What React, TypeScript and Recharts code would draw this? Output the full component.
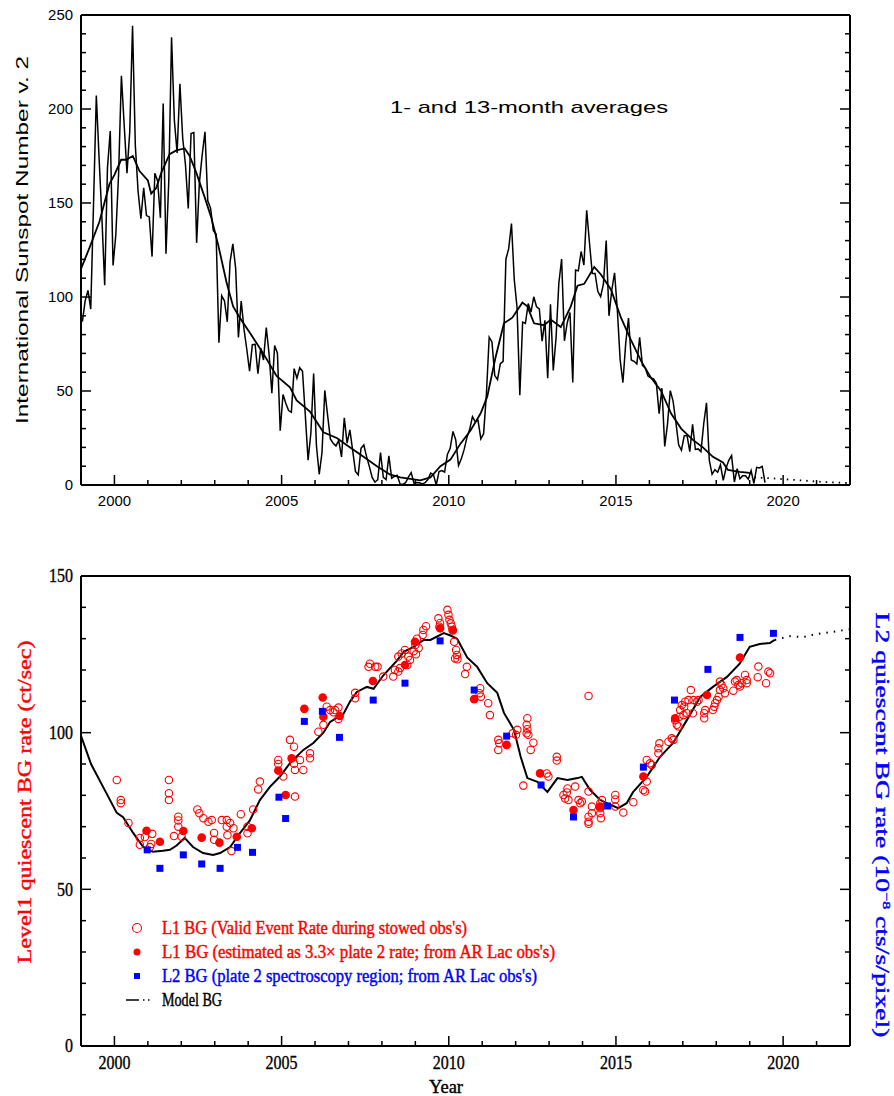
import React from 'react';
import { ComposedChart, Line, Scatter, XAxis, YAxis } from 'recharts';

// monthly mean sunspot number (SILSO v2), Jan..Dec
const sn1999 = [86.9, 98.0, 103.5, 93.6, 149.6, 207.2, 173.5, 142.3, 106.3, 168.7, 188.3, 116.8];
const sn2000 = [133.1, 165.7, 217.7, 191.5, 165.9, 188.0, 244.3, 180.5, 156.0, 141.6, 158.1, 143.3];
const sn2001 = [142.6, 121.5, 165.8, 161.7, 142.1, 202.9, 123.0, 161.5, 238.2, 194.1, 176.6, 213.4];
const sn2002 = [184.6, 170.2, 147.1, 186.9, 187.5, 128.8, 161.0, 175.6, 187.9, 151.2, 147.2, 135.3];
const sn2003 = [133.5, 75.7, 100.7, 97.9, 86.8, 118.7, 128.3, 115.4, 78.5, 97.8, 82.9, 72.2];
const sn2004 = [60.6, 74.6, 74.8, 59.2, 72.8, 66.5, 83.8, 69.7, 48.8, 74.2, 70.1, 28.9];
const sn2005 = [48.1, 43.5, 39.6, 38.7, 61.9, 56.8, 62.4, 60.5, 37.2, 13.2, 27.5, 59.3];
const sn2006 = [20.9, 5.7, 17.3, 50.3, 37.2, 24.5, 22.2, 20.8, 23.7, 14.9, 35.7, 22.3];
const sn2007 = [29.3, 18.4, 7.2, 5.4, 19.5, 21.3, 15.1, 9.8, 4.0, 1.5, 2.8, 17.3];
const sn2008 = [4.1, 2.9, 15.5, 3.6, 4.6, 5.2, 0.6, 0.3, 1.2, 4.2, 6.6, 1.0];
const sn2009 = [1.3, 1.2, 0.6, 1.2, 2.9, 6.3, 5.5, 0.0, 7.1, 7.7, 6.9, 16.3];
const sn2010 = [19.5, 28.5, 24.0, 10.4, 13.9, 18.8, 25.2, 29.6, 36.4, 33.6, 34.4, 24.5];
const sn2011 = [27.3, 48.3, 78.6, 76.1, 58.2, 56.1, 64.5, 65.8, 120.1, 125.7, 139.1, 109.3];
const sn2012 = [94.4, 47.8, 86.6, 85.9, 96.5, 92.0, 100.1, 94.8, 93.7, 76.5, 87.6, 56.8];
const sn2013 = [96.1, 60.9, 78.3, 107.3, 120.2, 76.7, 86.2, 91.8, 54.5, 114.4, 113.9, 124.2];
const sn2014 = [117.0, 146.1, 128.7, 112.5, 112.5, 102.9, 100.2, 106.9, 130.0, 90.0, 103.6, 112.9];
const sn2015 = [93.0, 66.7, 54.5, 75.3, 88.8, 66.5, 65.8, 64.4, 78.6, 63.6, 62.2, 58.0];
const sn2016 = [57.0, 56.4, 54.1, 37.9, 51.5, 20.5, 32.4, 50.2, 44.6, 33.4, 21.4, 18.5];
const sn2017 = [26.1, 26.4, 17.7, 32.3, 18.9, 19.2, 17.8, 32.6, 43.7, 13.2, 5.7, 8.2];
const sn2018 = [6.8, 10.7, 2.5, 8.9, 13.1, 15.6, 1.6, 8.7, 3.3, 4.9, 4.9, 3.1];
const sn2019 = [7.7, 0.8, 9.4, 9.1, 9.9, 1.2];

// 13-month smoothed [year, SN]
const smoothedSN = [
  [1999.0, 115], [1999.25, 126], [1999.55, 140], [1999.85, 160], [2000.0, 165], [2000.2, 173],
  [2000.35, 173], [2000.55, 175], [2000.75, 167], [2001.0, 162], [2001.1, 155], [2001.25, 158],
  [2001.4, 166], [2001.65, 176], [2001.85, 178], [2002.1, 179], [2002.25, 175], [2002.45, 166],
  [2002.7, 153], [2002.9, 142], [2003.1, 128], [2003.35, 108], [2003.55, 95], [2003.75, 89],
  [2004.05, 81], [2004.45, 70], [2004.85, 58], [2005.25, 52], [2005.45, 45], [2005.85, 39],
  [2006.25, 28], [2006.65, 25], [2007.05, 20], [2007.45, 15], [2007.85, 10], [2008.25, 5.5],
  [2008.55, 4], [2009.15, 2.5], [2009.45, 4], [2009.75, 10], [2010.05, 13.5], [2010.35, 22],
  [2010.65, 29], [2010.95, 38], [2011.15, 47], [2011.4, 68], [2011.65, 86], [2011.9, 89],
  [2012.2, 97], [2012.35, 95], [2012.55, 86], [2012.85, 85], [2013.05, 88], [2013.35, 84],
  [2013.65, 95], [2013.85, 106], [2014.05, 107], [2014.35, 116], [2014.55, 112], [2014.85, 104],
  [2015.15, 89], [2015.45, 77], [2015.75, 66], [2016.05, 57], [2016.35, 50], [2016.65, 38],
  [2016.95, 30], [2017.3, 24], [2017.6, 20], [2017.9, 15], [2018.2, 12], [2018.35, 8],
  [2018.7, 7], [2019.0, 6.5],
];
const predictedSN = [[2019.0, 6.5], [2019.15, 4], [2019.7, 3.5], [2020.5, 2.5], [2021.2, 1.6], [2022.0, 1]];

// model background [year, ct/s]
const modelBG = [
  [1999.0, 99], [1999.3, 90], [1999.66, 82.7], [2000.07, 74.4], [2000.26, 73], [2000.56, 68],
  [2000.86, 63.5], [2001.15, 62], [2001.45, 62.3], [2001.66, 62.6], [2001.86, 64], [2002.1, 66.4],
  [2002.35, 63.5], [2002.65, 61.6], [2002.95, 61], [2003.16, 61.6], [2003.46, 63.5], [2003.76, 68],
  [2004.05, 72], [2004.35, 78.5], [2004.65, 82.7], [2004.95, 86], [2005.25, 90.3], [2005.65, 94.5],
  [2005.95, 96.7], [2006.25, 100], [2006.45, 103.4], [2006.85, 106], [2007.05, 110], [2007.25, 113],
  [2007.55, 114.6], [2007.75, 114], [2008.05, 118.4], [2008.45, 123], [2008.65, 125.8], [2008.95, 127.4],
  [2009.25, 129.6], [2009.45, 129.6], [2009.85, 131.8], [2010.05, 131], [2010.25, 130], [2010.55, 124],
  [2010.85, 121], [2011.15, 115.8], [2011.45, 112.7], [2011.65, 106.3], [2011.95, 100.9], [2012.15, 92.3],
  [2012.35, 85.5], [2012.65, 84.3], [2012.95, 81.1], [2013.25, 85.5], [2013.55, 84.9], [2013.85, 85.5],
  [2013.98, 85.9], [2014.23, 81.7], [2014.53, 78.5], [2014.83, 77], [2015.07, 75.9], [2015.32, 77.5],
  [2015.51, 81], [2015.92, 85.9], [2016.32, 92.3], [2016.71, 96.7], [2017.12, 104], [2017.52, 111.4],
  [2017.9, 114.6], [2018.32, 117.8], [2018.7, 122], [2019.0, 127.4], [2019.3, 128.3], [2019.6, 128.6],
  [2019.75, 129.6],
];
const modelBGExtension = [[2019.75, 129.6], [2020.2, 130.8], [2020.6, 130.5], [2021.0, 131.5], [2021.5, 132.2], [2022.0, 133]];

// L1 BG, valid event rate during stowed observations
const l1Stowed = [
  [2000.07, 84.9], [2000.19, 78.5], [2000.19, 77.5], [2000.42, 71.2], [2000.76, 66.4], [2000.76, 64.2],
  [2000.91, 66.7], [2001.06, 63.5], [2001.1, 64.5], [2001.13, 67.7], [2001.63, 84.9], [2001.63, 80.7],
  [2001.63, 78.5], [2001.91, 73.2], [2001.91, 72], [2001.91, 70], [2001.78, 67], [2002.01, 66.8],
  [2002.48, 75.5], [2002.54, 74.3], [2002.66, 72.7], [2002.81, 71.6], [2002.91, 72.1], [2002.98, 68],
  [2002.98, 65.8], [2003.21, 72.1], [2003.36, 70], [2003.36, 72.1], [2003.46, 71.2], [2003.38, 67.3],
  [2003.56, 69.5], [2003.5, 62.2], [2003.78, 74], [2003.98, 70], [2003.98, 67.9], [2004.15, 75.5],
  [2004.3, 81.9], [2004.35, 84.4], [2004.9, 91.3], [2004.9, 90], [2005.05, 86], [2005.25, 97.7],
  [2005.37, 95.5], [2005.4, 88.1], [2005.37, 90.1], [2005.55, 91.3], [2005.65, 88.1], [2005.85, 93.4],
  [2005.85, 91.8], [2005.4, 79.6], [2006.1, 100.3], [2006.25, 102.5], [2006.35, 108.3], [2006.45, 107.2],
  [2006.6, 107.2], [2006.7, 108], [2006.7, 104.4], [2006.55, 106.5], [2007.2, 112.7], [2007.2, 111],
  [2007.64, 122], [2007.6, 121], [2007.8, 121], [2007.87, 121], [2008.04, 117.9], [2008.34, 117.9],
  [2008.39, 120], [2008.49, 119.5], [2008.54, 120.6], [2008.49, 124.3], [2008.59, 125.3], [2008.69, 126.4],
  [2008.79, 124.3], [2008.84, 123.2], [2008.76, 121.6], [2008.95, 126], [2009.0, 128], [2009.05, 130],
  [2009.1, 127], [2009.02, 125], [2009.24, 132.8], [2009.32, 134], [2009.22, 131.2], [2009.69, 136.5],
  [2009.74, 135], [2009.72, 133.8], [2009.96, 139.2], [2009.99, 137.6], [2010.02, 136], [2010.06, 134.9],
  [2010.09, 133.8], [2010.12, 132.8], [2010.16, 129], [2010.22, 126.4], [2010.24, 124.8], [2010.19, 123.7],
  [2010.26, 123.4], [2010.54, 121], [2010.49, 118.7], [2010.94, 114.2], [2010.92, 112.6], [2010.96, 111.5],
  [2011.18, 109.4], [2011.23, 105.6], [2011.48, 97.7], [2011.51, 96.6], [2011.48, 94.5], [2011.91, 99.8],
  [2012.01, 99.3], [2012.05, 100.9], [2012.35, 104.6], [2012.33, 102.5], [2012.35, 101.1], [2012.33, 99.8],
  [2012.38, 99.3], [2012.53, 96.8], [2012.45, 94.5], [2013.23, 92.3], [2013.23, 91.1], [2012.23, 83.1],
  [2012.93, 87], [2012.98, 86], [2013.43, 80.1], [2013.53, 80.9], [2013.55, 82.2], [2013.58, 78.5],
  [2013.78, 82.8], [2013.88, 78.5], [2013.93, 77.5], [2013.48, 79], [2013.98, 78], [2014.18, 111.7],
  [2014.18, 81.2], [2014.18, 73.2], [2014.18, 71.6], [2014.18, 70.9], [2014.28, 76.4], [2014.28, 74.3],
  [2014.53, 77.5], [2014.53, 75.9], [2014.53, 74.3], [2014.55, 72.7], [2014.58, 78.5], [2014.98, 80.1],
  [2014.98, 78.7], [2014.98, 76.4], [2015.22, 74.5], [2015.52, 77.8], [2015.82, 81.7], [2015.87, 81.2],
  [2015.92, 91.3], [2016.02, 90.2], [2016.07, 89.7], [2015.92, 84.4], [2016.27, 95], [2016.3, 96.6],
  [2016.27, 93.4], [2016.57, 97.1], [2016.67, 98.2], [2016.72, 97.7], [2016.77, 104], [2016.82, 102.5],
  [2016.87, 102], [2016.9, 105.1], [2016.92, 107.2], [2016.97, 108.8], [2017.04, 108.3], [2017.07, 109.9],
  [2017.17, 110.4], [2017.02, 105.6], [2017.12, 106.2], [2017.24, 113.6], [2017.3, 106.2], [2017.32, 110.4],
  [2017.42, 109.9], [2017.47, 110.4], [2017.64, 106.2], [2017.64, 104.6], [2017.67, 107.2], [2017.9, 107.2],
  [2017.94, 108.3], [2017.97, 109.4], [2018.02, 110.4], [2018.07, 111.5], [2018.11, 113.6], [2018.11, 116.3],
  [2018.16, 115.2], [2018.21, 114.2], [2018.26, 112.6], [2018.51, 113.4], [2018.56, 116.3], [2018.61, 116.8],
  [2018.66, 115.2], [2018.71, 114.7], [2018.76, 115.8], [2018.86, 118.4], [2018.91, 116.8], [2018.91, 115.8],
  [2019.26, 121.1], [2019.24, 117.7], [2019.49, 115.8], [2019.56, 119.5], [2019.61, 119],
];

// L1 BG estimated as 3.3x plate 2 rate (AR Lac)
const l1ArLac = [
  [2000.96, 68.7], [2001.36, 65.2], [2002.06, 68.6], [2002.61, 66.5], [2003.14, 64.9], [2003.66, 66.8],
  [2004.11, 69.5], [2004.9, 87.9], [2005.12, 80.1], [2005.3, 91.8], [2005.68, 107.6], [2006.23, 111.2],
  [2006.25, 105.1], [2006.74, 105.3], [2007.73, 116.5], [2008.69, 121.6], [2008.99, 129], [2009.74, 133.3],
  [2010.12, 132.6], [2010.76, 110.7], [2011.73, 96.1], [2012.73, 87], [2013.73, 75.3], [2014.53, 76.4],
  [2015.82, 86], [2016.77, 104.6], [2017.72, 112], [2018.71, 124],
];

// L2 BG, plate 2 spectroscopy region (AR Lac)
const l2ArLac = [
  [2000.98, 62.6], [2001.36, 56.7], [2002.06, 61], [2002.61, 58.1], [2003.16, 56.7], [2003.68, 63.4],
  [2004.13, 61.8], [2004.92, 79.4], [2005.12, 72.6], [2005.68, 103.6], [2006.22, 106.8], [2006.73, 98.5],
  [2007.74, 110.4], [2008.69, 115.8], [2009.74, 129.3], [2010.76, 113.6], [2011.73, 98.9], [2012.76, 83.3],
  [2013.73, 73.1], [2014.75, 76.6], [2015.82, 89], [2016.75, 110.4], [2017.75, 120.2], [2018.71, 130.4],
  [2019.71, 131.7],
];

const yearMajor = [2000, 2005, 2010, 2015, 2020];
const yearTicks = [1999, 2000, 2001, 2002, 2003, 2004, 2005, 2006, 2007, 2008, 2009, 2010, 2011,
  2012, 2013, 2014, 2015, 2016, 2017, 2018, 2019, 2020, 2021, 2022];
const snMajor = [0, 50, 100, 150, 200, 250];
const snTicks = [0, 10, 20, 30, 40, 50, 60, 70, 80, 90, 100, 110, 120, 130, 140, 150, 160, 170, 180, 190,
  200, 210, 220, 230, 240, 250];
const bgMajor = [0, 50, 100, 150];
const bgTicks = [0, 10, 20, 30, 40, 50, 60, 70, 80, 90, 100, 110, 120, 130, 140, 150];

const X_DOMAIN: [number, number] = [1999, 2022];
const RED = '#ff0000';
const BLUE = '#0000ff';
const SANS = '"Liberation Sans", Arial, sans-serif';
const SERIF = '"Liberation Serif", "DejaVu Serif", serif';

const toPts = (pairs: number[][]) => pairs.map(([t, v]) => ({ t, v }));
const monthlySN = [sn1999, sn2000, sn2001, sn2002, sn2003, sn2004, sn2005, sn2006, sn2007, sn2008,
  sn2009, sn2010, sn2011, sn2012, sn2013, sn2014, sn2015, sn2016, sn2017, sn2018, sn2019]
  .flatMap((arr, yi) => arr.map((v, m) => ({ t: 1999 + yi + (m + 0.5) / 12, v })));

const axisLine = { stroke: '#000', strokeWidth: 2 };

// tick drawn inward from the frame; long for majors, label only where asked
type TickOpts = { side: 'bottom' | 'top' | 'left' | 'right'; major: number[]; label?: boolean;
  font?: string; size?: number; charW?: number; gap?: number; bold?: number };

const FrameTick = (props: any) => {
  const { x, y, payload, side, major, label, font, size, charW, gap, bold } = props;
  const v = payload.value;
  const len = major.includes(v) ? 10 : 5;
  let x2 = x, y2 = y;
  if (side === 'bottom') y2 = y - len;
  if (side === 'top') y2 = y + len;
  if (side === 'left') x2 = x + len;
  if (side === 'right') x2 = x - len;
  const txt = String(v);
  const showLabel = label && major.includes(v);
  return (
    <g>
      <line x1={x} y1={y} x2={x2} y2={y2} stroke="#000" strokeWidth={1.5} />
      {showLabel && (
        <text
          x={side === 'left' ? x - gap : x}
          y={side === 'left' ? y : y + gap}
          dy={side === 'left' ? '0.35em' : '0.71em'}
          textAnchor={side === 'left' ? 'end' : 'middle'}
          fontFamily={font} fontSize={size} fill="#000" stroke="#000" strokeWidth={bold || 0}
          textLength={charW ? txt.length * charW : undefined} lengthAdjust="spacingAndGlyphs">
          {txt}
        </text>
      )}
    </g>
  );
};

const tickOf = (o: TickOpts) => (p: any) => <FrameTick {...p} {...o} />;

const frameAxes = (yTicks: number[], yMajor: number[], yDomain: [number, number], font: string,
  size: number, charW: number, xGap: number, bold: number) => [
  <XAxis key="xb" xAxisId="b" type="number" dataKey="t" domain={X_DOMAIN} allowDataOverflow ticks={yearTicks}
    interval={0} height={30} tickSize={0} tickMargin={0} axisLine={axisLine} tickLine={false}
    tick={tickOf({ side: 'bottom', major: yearMajor, label: true, font, size, charW, gap: xGap, bold })} />,
  <XAxis key="xt" xAxisId="t" orientation="top" type="number" domain={X_DOMAIN} allowDataOverflow ticks={yearTicks}
    interval={0} height={2} tickSize={0} tickMargin={0} axisLine={axisLine} tickLine={false}
    tick={tickOf({ side: 'top', major: yearMajor })} />,
  <YAxis key="yl" yAxisId="l" type="number" domain={yDomain} allowDataOverflow ticks={yTicks} interval={0}
    width={40} tickSize={0} tickMargin={0} axisLine={axisLine} tickLine={false}
    tick={tickOf({ side: 'left', major: yMajor, label: true, font, size, charW, gap: 8, bold })} />,
  <YAxis key="yr" yAxisId="r" orientation="right" type="number" domain={yDomain} allowDataOverflow ticks={yTicks}
    interval={0} width={2} tickSize={0} tickMargin={0} axisLine={axisLine} tickLine={false}
    tick={tickOf({ side: 'right', major: yMajor })} />,
];

const OpenCircle = (p: any) => <circle cx={p.cx} cy={p.cy} r={3.7} fill="none" stroke={RED} strokeWidth={1.1} />;
const FilledCircle = (p: any) => <circle cx={p.cx} cy={p.cy} r={4.3} fill={RED} />;
const BlueSquare = (p: any) => <rect x={p.cx - 3.5} y={p.cy - 3.5} width={7} height={7} fill={BLUE} />;

// plot box: x 81..850; top panel y 15..485, lower panel y 576..1046
const SunspotPanel = () => (
  <ComposedChart width={894} height={540} margin={{ top: 13, right: 42, bottom: 25, left: 41 }}>
    {frameAxes(snTicks, snMajor, [0, 250], SANS, 15, 8.3, 10, 0)}
    <Line data={monthlySN} xAxisId="b" yAxisId="l" dataKey="v" type="linear" dot={false} stroke="#000"
      strokeWidth={1.5} isAnimationActive={false} />
    <Line data={toPts(smoothedSN)} xAxisId="b" yAxisId="l" dataKey="v" type="linear" dot={false} stroke="#000"
      strokeWidth={1.8} isAnimationActive={false} />
    <Line data={toPts(predictedSN)} xAxisId="b" yAxisId="l" dataKey="v" type="linear" dot={false} stroke="#000"
      strokeWidth={1.8} strokeDasharray="1.5 5" isAnimationActive={false} />
  </ComposedChart>
);

const BackgroundPanel = () => (
  <ComposedChart width={894} height={556} margin={{ top: 34, right: 42, bottom: 20, left: 41 }}>
    {frameAxes(bgTicks, bgMajor, [0, 150], SERIF, 18, 8, 10, 0.35)}
    <Line data={toPts(modelBG)} xAxisId="b" yAxisId="l" dataKey="v" type="linear" dot={false} stroke="#000"
      strokeWidth={2} isAnimationActive={false} />
    <Line data={toPts(modelBGExtension)} xAxisId="b" yAxisId="l" dataKey="v" type="linear" dot={false} stroke="#000"
      strokeWidth={2} strokeDasharray="1.5 6" isAnimationActive={false} />
    <Scatter data={toPts(l1Stowed)} xAxisId="b" yAxisId="l" dataKey="v" shape={OpenCircle} isAnimationActive={false} />
    <Scatter data={toPts(l1ArLac)} xAxisId="b" yAxisId="l" dataKey="v" shape={FilledCircle} isAnimationActive={false} />
    <Scatter data={toPts(l2ArLac)} xAxisId="b" yAxisId="l" dataKey="v" shape={BlueSquare} isAnimationActive={false} />
  </ComposedChart>
);

const legendRows = [
  { label: "L1 BG (Valid Event Rate during stowed obs's)", color: RED, len: 305 },
  { label: "L1 BG (estimated as 3.3\u00d7 plate 2 rate; from AR Lac obs's)", color: RED, len: 393 },
  { label: "L2 BG (plate 2 spectroscopy region; from AR Lac obs's)", color: BLUE, len: 375 },
  { label: 'Model BG', color: '#000', len: 60 },
];

const Annotations = () => (
  <svg width={894} height={1096} style={{ position: 'absolute', left: 0, top: 0, pointerEvents: 'none' }}>
    <text transform="translate(28,240) rotate(-90)" textAnchor="middle" fontFamily={SANS} fontSize={17}
      textLength={368} lengthAdjust="spacingAndGlyphs">International Sunspot Number v. 2</text>
    <text x={390} y={113} fontFamily={SANS} fontSize={17} textLength={278} lengthAdjust="spacingAndGlyphs">
      1- and 13-month averages
    </text>
    <text transform="translate(31,802) rotate(-90)" textAnchor="middle" fontFamily={SERIF} fontSize={19} fill={RED}
      stroke={RED} strokeWidth={0.4} textLength={323} lengthAdjust="spacingAndGlyphs">
      Level1 quiescent BG rate (ct/sec)
    </text>
    <text transform="translate(876,825) rotate(90)" textAnchor="middle" fontFamily={SERIF} fontSize={19} fill={BLUE}
      stroke={BLUE} strokeWidth={0.4} textLength={425} lengthAdjust="spacingAndGlyphs">
      L2 quiescent BG rate (10<tspan dy={-7} fontSize={11}>{'\u22128'}</tspan><tspan dy={7}> cts/s/pixel)</tspan>
    </text>
    <text x={446} y={1093} textAnchor="middle" fontFamily={SERIF} fontSize={18} stroke="#000" strokeWidth={0.4}
      textLength={34} lengthAdjust="spacingAndGlyphs">Year</text>
    {legendRows.map((row, i) => {
      const cy = 928 + i * 24;
      return (
        <g key={row.label}>
          {i === 0 && <circle cx={137} cy={cy} r={4.5} fill="none" stroke={RED} strokeWidth={1.1} />}
          {i === 1 && <circle cx={137} cy={cy} r={3.5} fill={RED} />}
          {i === 2 && <rect x={134} y={cy - 3} width={6} height={6} fill={BLUE} />}
          {i === 3 && (
            <g stroke="#000" strokeWidth={1.5}>
              <line x1={126} y1={cy} x2={139} y2={cy} />
              <line x1={143} y1={cy} x2={144.5} y2={cy} />
              <line x1={148} y1={cy} x2={149.5} y2={cy} />
            </g>
          )}
          <text x={162} y={cy + 6} fontFamily={SERIF} fontSize={19} fill={row.color} stroke={row.color}
            strokeWidth={0.45} textLength={row.len} lengthAdjust="spacingAndGlyphs">{row.label}</text>
        </g>
      );
    })}
  </svg>
);

export default function App() {
  return (
    <div style={{ position: 'absolute', left: 0, top: 0, width: 894, height: 1096, background: '#fff' }}>
      <div style={{ position: 'absolute', left: 0, top: 0 }}>
        <SunspotPanel />
      </div>
      <div style={{ position: 'absolute', left: 0, top: 540 }}>
        <BackgroundPanel />
      </div>
      <Annotations />
    </div>
  );
}
